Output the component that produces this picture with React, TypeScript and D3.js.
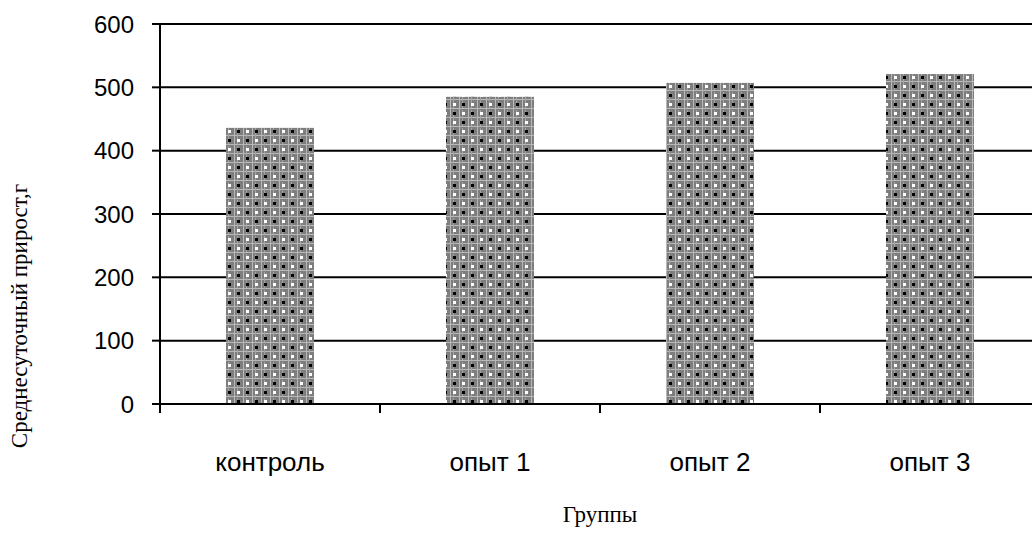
import React from "react";
import * as d3 from "d3";

const categories = ["контроль", "опыт 1", "опыт 2", "опыт 3"];
const values = [436, 485, 507, 521];
const yTicks = [0, 100, 200, 300, 400, 500, 600];

export default function App() {
  const W = 1032, H = 536;
  const left = 160, right = 1040, top = 24, bottom = 404;
  const x = d3.scaleBand().domain(categories).range([left, right]).paddingInner(0.6).paddingOuter(0.3);
  const xOuter = d3.scaleBand().domain(categories).range([left, right]);
  const y = d3.scaleLinear().domain([0, 600]).range([bottom, top]);
  return (
    <svg width={W} height={H} style={{ position: "absolute", left: 0, top: 0, background: "#fff" }}>
      <defs>
        <pattern id="chk" width="18" height="18" patternUnits="userSpaceOnUse">
          <rect width="18" height="18" fill="#7e7e7e" />
          <rect x="0" y="0" width="18" height="1" fill="#b8b8b8" />
          <rect x="0" y="9" width="18" height="1" fill="#b8b8b8" />
          <rect x="0" y="0" width="1" height="18" fill="#b8b8b8" />
          <rect x="9" y="0" width="1" height="18" fill="#b8b8b8" />
          <rect x="3" y="2" width="1" height="18" fill="#a4a4a4" />
          <rect x="12" y="2" width="1" height="18" fill="#a4a4a4" />
          <rect x="3" y="4" width="3" height="3" fill="#000" />
          <rect x="12" y="4" width="3" height="3" fill="#fff" />
          <rect x="3" y="13" width="3" height="3" fill="#fff" />
          <rect x="12" y="13" width="3" height="3" fill="#000" />
        </pattern>
      </defs>
      {yTicks.slice(1).map((t) => (
        <line key={t} x1={left} x2={right} y1={y(t)} y2={y(t)} stroke="#000" strokeWidth={2} />
      ))}
      {categories.map((c, i) => (
        <rect key={c} x={x(c)} y={y(values[i])} width={x.bandwidth()} height={bottom - y(values[i])} fill="url(#chk)" />
      ))}
      <line x1={left} x2={left} y1={top} y2={bottom + 9} stroke="#000" strokeWidth={2} />
      <line x1={left} x2={right} y1={bottom} y2={bottom} stroke="#000" strokeWidth={2} />
      {yTicks.map((t) => (
        <g key={t}>
          <line x1={left - 8} x2={left} y1={y(t)} y2={y(t)} stroke="#000" strokeWidth={2} />
          <text x={134} y={y(t)} dy="0.36em" textAnchor="end" fontFamily="Liberation Sans, Arial, sans-serif" fontSize={24}>{t}</text>
        </g>
      ))}
      {categories.map((c) => (
        <g key={c}>
          <line x1={(xOuter(c) as number) + xOuter.bandwidth()} x2={(xOuter(c) as number) + xOuter.bandwidth()} y1={bottom} y2={bottom + 9} stroke="#000" strokeWidth={2} />
          <text x={(xOuter(c) as number) + xOuter.bandwidth() / 2} y={462} dy="0.36em" textAnchor="middle" fontFamily="Liberation Sans, Arial, sans-serif" fontSize={26}>{c}</text>
        </g>
      ))}
      <text x={600} y={522} textAnchor="middle" fontFamily="Liberation Serif, Times New Roman, serif" fontSize={23}>Группы</text>
      <text transform={`translate(27,316) rotate(-90)`} textAnchor="middle" fontFamily="Liberation Serif, Times New Roman, serif" fontSize={23}>Среднесуточный прирост,г</text>
    </svg>
  );
}
